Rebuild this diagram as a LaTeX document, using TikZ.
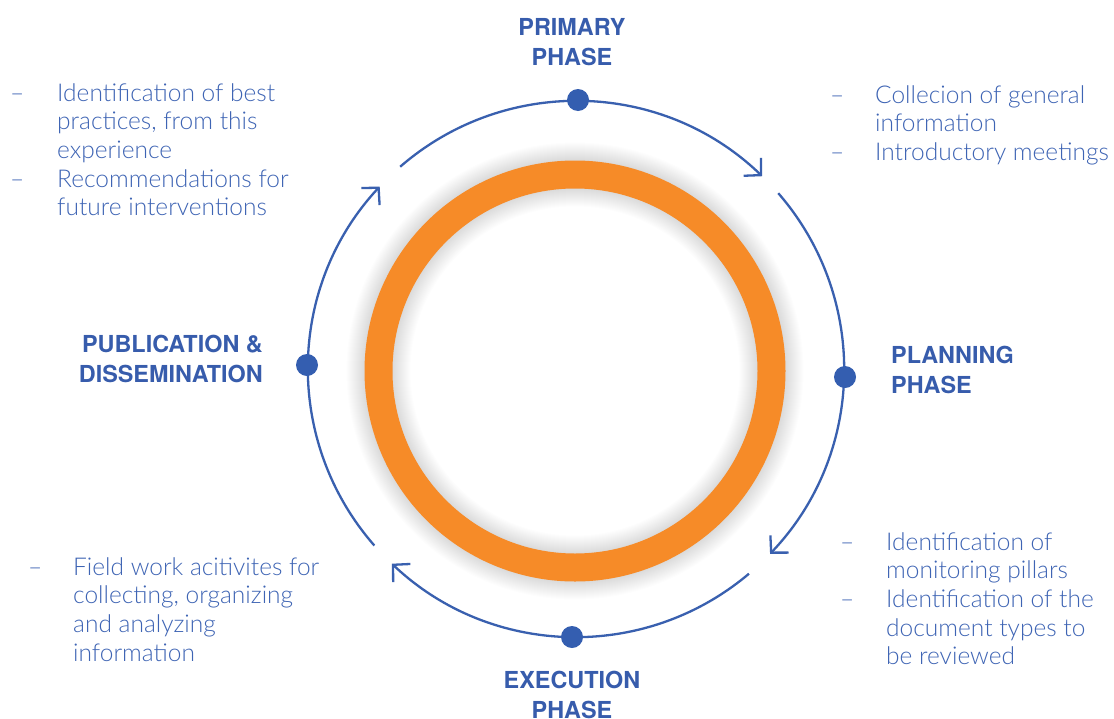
\documentclass[tikz,border=0pt]{standalone}
\usepackage{fontspec}
\setmainfont{Lato}[UprightFont=* Light, BoldFont=* Bold]
\newfontfamily\headfont{TeX Gyre Heros}
\usetikzlibrary{arrows.meta}
\definecolor{cycleblue}{RGB}{57,96,175}
\definecolor{dotblue}{RGB}{52,94,176}
\definecolor{textblue}{RGB}{62,100,180}
\definecolor{headblue}{RGB}{55,92,172}
\definecolor{ringorange}{RGB}{246,139,40}
\tikzset{
  cyclearc/.style={draw=cycleblue, line width=2.3pt,
    -{Straight Barb[length=12pt,width=25pt,line width=2.3pt]}},
  phasedot/.style={circle, fill=dotblue, minimum size=22pt, inner sep=0pt},
  heading/.style={text=headblue, font=\headfont\bfseries\fontsize{23.4}{30}\selectfont, inner sep=0pt},
  itemlist/.style={text=textblue, font=\fontsize{24.5}{28.7}\selectfont, inner sep=0pt, anchor=base west},
}
\newcommand{\dashlist}[2]{\begin{tabular}[t]{@{}p{#1}@{}l@{}}#2\end{tabular}}
\begin{document}
\begin{tikzpicture}[x=1pt,y=-1pt]
\useasboundingbox (0,0) rectangle (1114,718);
\fill[white] (0,0) rectangle (1114,718);

% central ring with a soft shadow on both sides
\coordinate (ring) at (575,371);
\foreach \i in {1,...,18}
  \draw[black, opacity=0.006, line width=28pt+2*\i pt] (ring) circle[radius=196.5];
\draw[ringorange, line width=28pt] (ring) circle[radius=196.5];

% cycle of four arcs
\coordinate (c) at (576,369);
\draw[cyclearc] (c) ++(-131:268) arc[start angle=-131, end angle=-46, radius=268];
\draw[cyclearc] (c) ++(-41:268) arc[start angle=-41, end angle=43.6, radius=268];
\draw[cyclearc] (c) ++(49.8:268) arc[start angle=49.8, end angle=133.4, radius=268];
\draw[cyclearc] (c) ++(138.8:268) arc[start angle=138.8, end angle=222.9, radius=268];

% phase markers
\node[phasedot] (dtop) at (578,100) {};
\node[phasedot] (dright) at (845,377) {};
\node[phasedot] (dbottom) at (572,637) {};
\node[phasedot] (dleft) at (307,365) {};

% phase titles (base anchor sits on the last line)
\node[heading, anchor=base, align=center] (primary) at (572,65) {PRIMARY\\PHASE};
\node[heading, anchor=base west, align=left] (planning) at (891,393) {PLANNING\\PHASE};
\node[heading, anchor=base, align=center] (execution) at (572,718) {EXECUTION\\PHASE};
\node[heading, anchor=base east, align=right] (publication) at (263,382) {PUBLICATION \&\\DISSEMINATION};

% activity lists
\node[itemlist] (listpub) at (10,101) {\dashlist{47pt}{%
  –&Identification of best\\
   &practices, from this\\
   &experience\\
  –&Recommendations for\\
   &future interventions}};
\node[itemlist] (listprim) at (830,103) {\dashlist{45pt}{%
  –&Collecion of general\\
   &information\\
  –&Introductory meetings}};
\node[itemlist] (listplan) at (840,550) {\dashlist{46pt}{%
  –&Identification of\\
   &monitoring pillars\\
  –&Identification of the\\
   &document types to\\
   &be reviewed}};
\node[itemlist] (listexec) at (28,575) {\dashlist{45pt}{%
  –&Field work acitivites for\\
   &collecting, organizing\\
   &and analyzing\\
   &information}};
\end{tikzpicture}
\end{document}
